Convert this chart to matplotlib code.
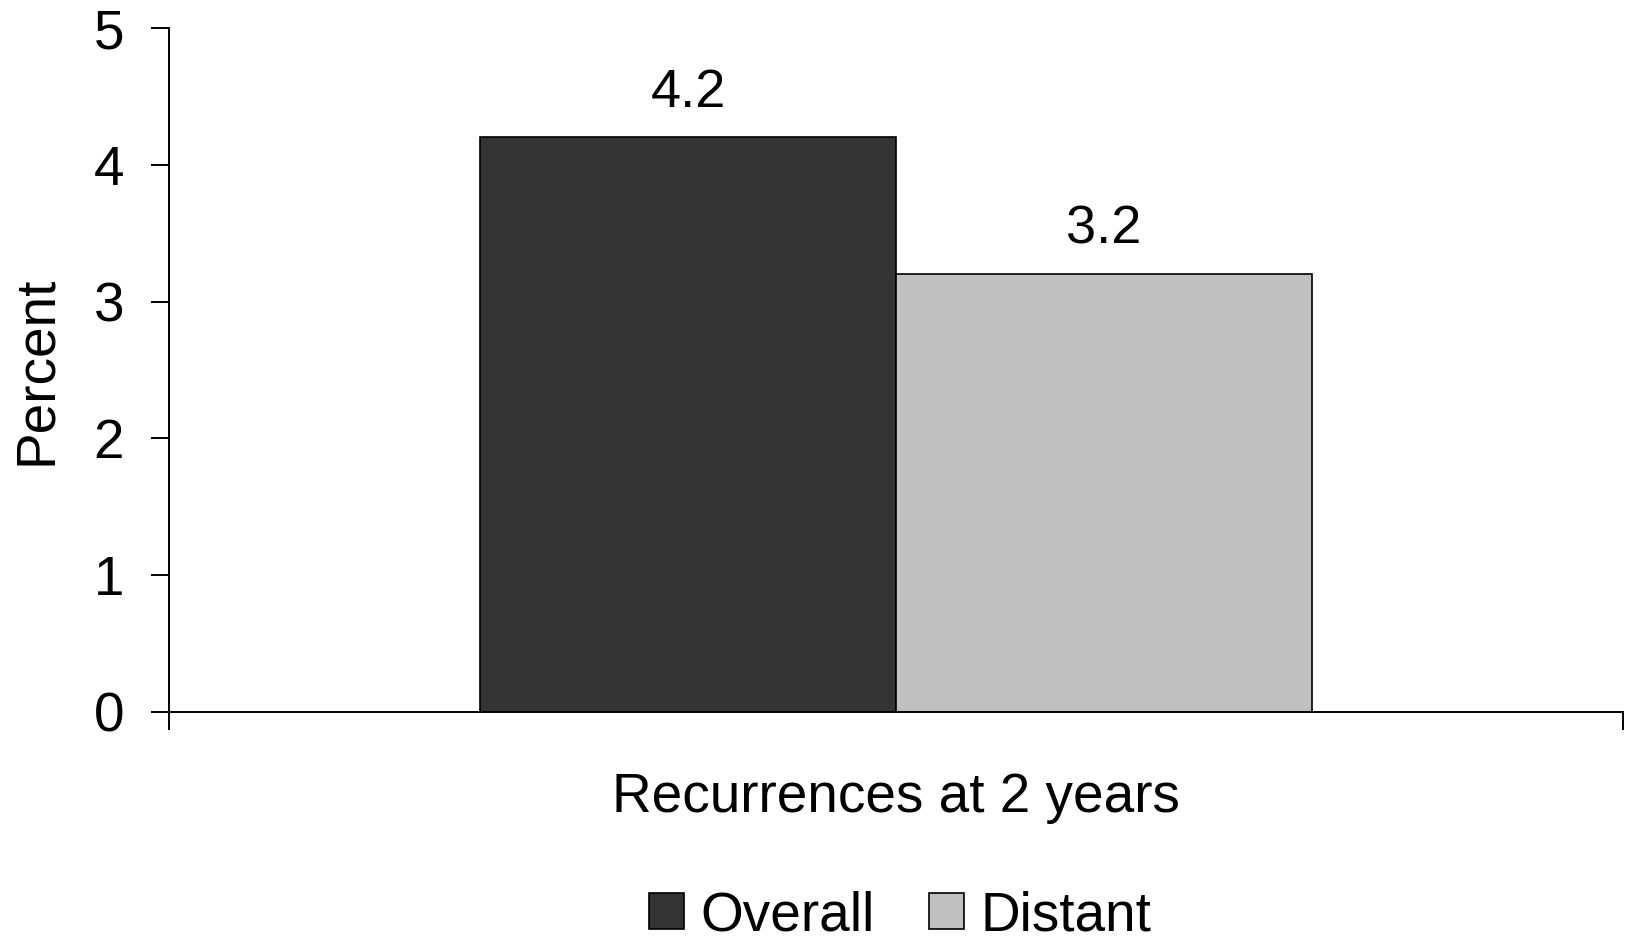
import matplotlib
matplotlib.use('Agg')
import matplotlib.pyplot as plt

plt.rcParams['font.family'] = ['Liberation Sans', 'DejaVu Sans']

category = 'Recurrences at 2 years'
series = ['Overall', 'Distant']
values = [4.2, 3.2]
colors = ['#333333', '#c0c0c0']

fig = plt.figure(figsize=(16.33, 9.41), dpi=100)
ax = fig.add_axes([0.1033, 0.2434, 0.8906, 0.7268])

width = 0.2858
offsets = [-width / 2, width / 2]
for name, val, col, off in zip(series, values, colors, offsets):
    bars = ax.bar(off, val, width=width, color=col, edgecolor='black',
                  linewidth=1.2, label=name)
    ax.bar_label(bars, labels=[f'{val:.1f}'], padding=14, fontsize=39)

ax.set_xlim(-0.5, 0.5)
ax.set_ylim(0, 5)
ax.set_yticks(range(6))
ax.set_xticks([-0.5, 0.5])
ax.set_xticklabels([])
ax.tick_params(axis='both', direction='out', length=13, width=1.4,
               labelsize=39.5, pad=19)
for s in ['top', 'right']:
    ax.spines[s].set_visible(False)
for s in ['left', 'bottom']:
    ax.spines[s].set_linewidth(1.4)

ax.set_ylabel('Percent', fontsize=39.5, labelpad=22)
ax.text(0, -0.63, category, ha='center', va='center', fontsize=39.5)

ax.legend(loc='center', bbox_to_anchor=(0.503, -0.299), ncol=2, frameon=False,
          fontsize=39.5, handlelength=0.64, handleheight=0.64, handletextpad=0.3,
          columnspacing=1.0)

plt.savefig('out.png', dpi=100)
